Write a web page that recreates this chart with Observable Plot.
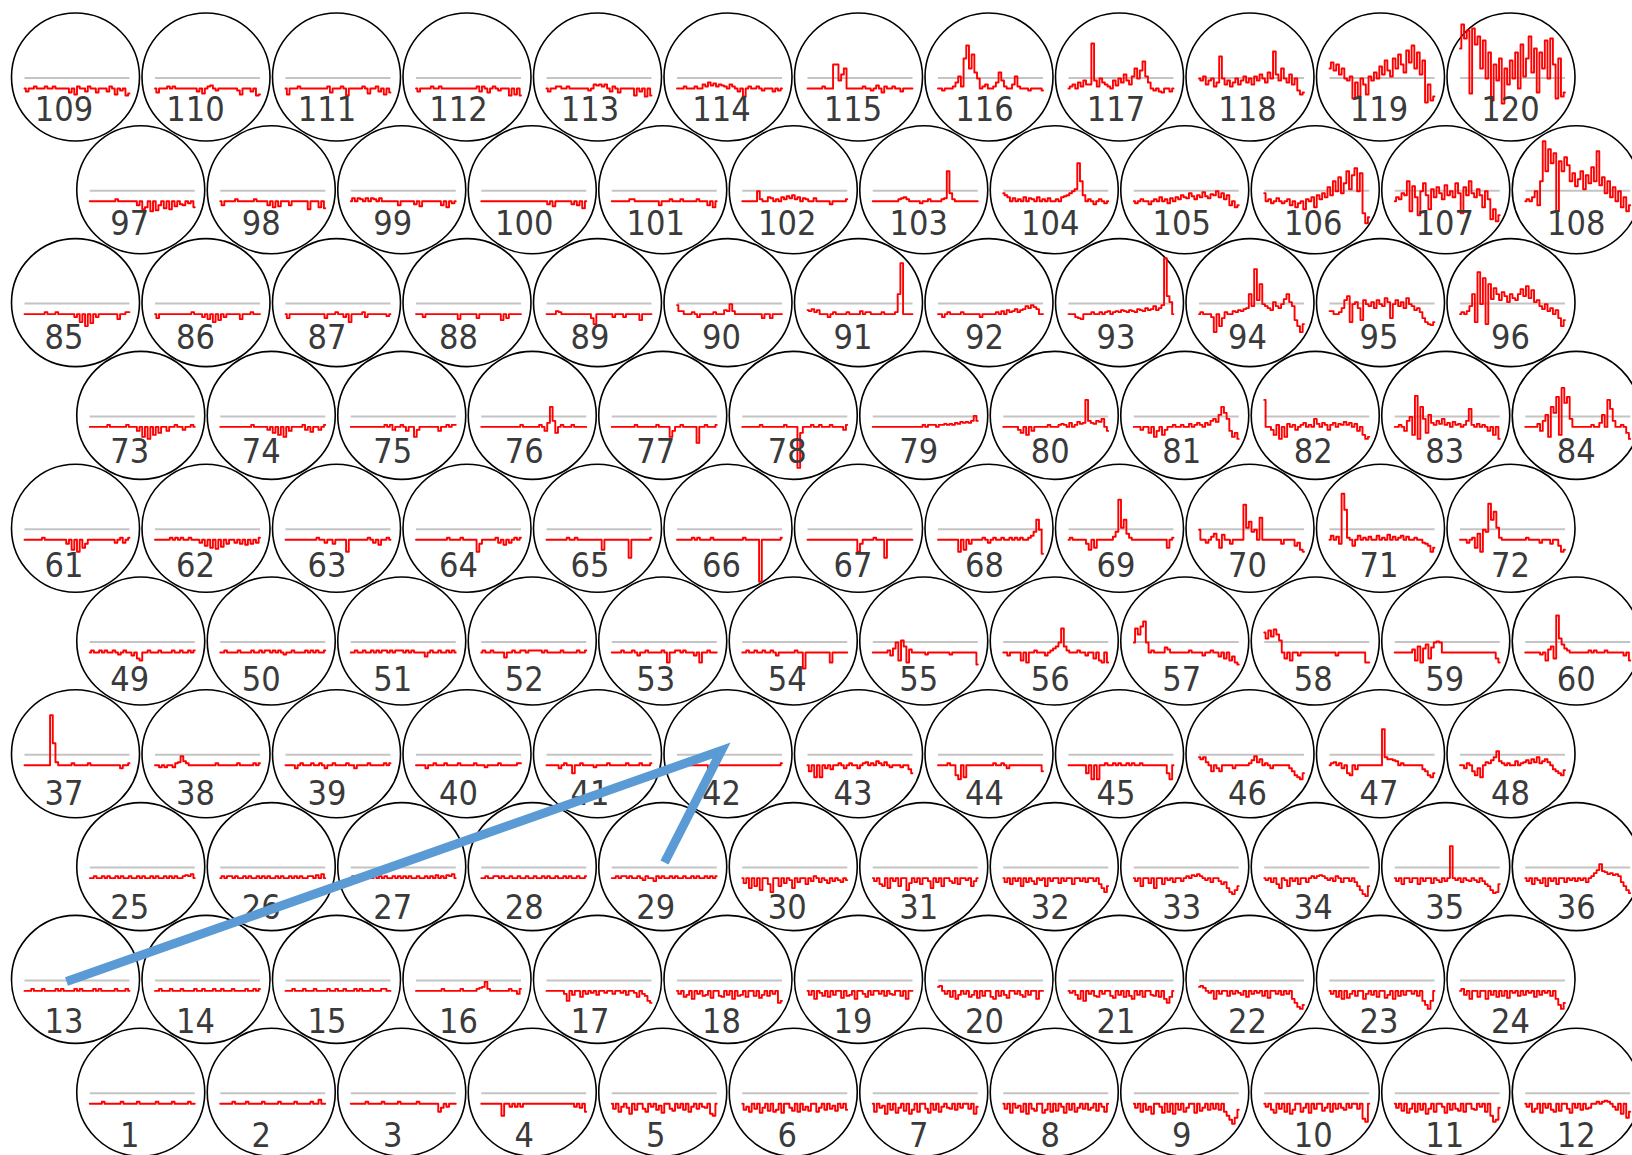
<!DOCTYPE html>
<html><head><meta charset="utf-8">
<script src="https://cdn.jsdelivr.net/npm/d3@7"></script>
<script src="https://cdn.jsdelivr.net/npm/@observablehq/plot@0.6"></script>
<style>html,body{margin:0;padding:0;background:#fff;overflow:hidden}svg{display:block}</style>
</head><body><div id="chart"></div>
<script>
// Values: height of the red trace in px above its usual level (the grey line sits 10.5 above that level)
const row01 = [ // circles 1-12
[0,0,0,0,0,2,0,0,0,0,0,0,2,0,0,0,0,0,2,0,0,0,0,0,0,2,0,0,0,0,0,2,0,0,0,0,0,2,0,0],
[0,0,0,0,0,2,0,0,0,0,2,0,0,0,0,0,2,0,0,0,0,0,2,0,0,0,0,0,2,0,0,0,0,0,2,0,0,4,0,0],
[0,0,0,0,0,0,2,0,0,0,0,0,2,0,0,0,0,0,2,0,0,0,0,0,0,2,0,0,0,0,0,0,0,-8,-4,0,-3,0,0,0],
[0,0,0,0,0,0,0,0,-12,0,0,-3,0,-3,0,-3,0,0,0,0,0,0,0,0,0,0,0,0,0,0,0,0,0,0,0,-3,0,-4,0,-8],
[0,-5,0,-8,-3,0,-4,-10,0,-6,0,0,-5,-8,0,-3,0,-6,-2,-9,0,0,-5,-7,0,-4,0,-6,0,-8,-3,0,-5,0,-3,-4,0,-10,-12,0],
[0,-6,-3,-8,0,-5,0,-9,-4,0,-7,0,-8,-6,0,-9,0,0,-4,-7,0,-8,0,-6,-3,-7,0,0,-8,-4,0,-6,0,-5,-2,-7,0,-4,0,-6],
[0,-8,0,-4,-2,-10,0,-6,0,-9,-4,0,-7,0,-10,-6,0,-8,0,0,-5,-9,0,-6,0,-8,-3,0,-4,-5,0,-6,0,-4,0,0,-5,0,-10,-3],
[0,-5,0,-9,0,-4,-2,-8,0,-10,0,-5,-7,0,0,-9,-6,0,-8,0,-7,0,-3,-9,0,-6,0,-8,-4,0,-5,0,-6,-4,0,-7,0,-3,-8,0],
[0,-4,0,-8,0,-6,-3,-10,0,0,-3,-9,0,-8,0,-10,0,-6,0,-8,-4,0,0,-9,0,-7,-4,0,-6,0,-5,0,-6,0,-8,-12,-16,-20,-14,-6],
[0,-3,0,-6,-9,0,-5,0,-8,0,-10,-6,0,0,-8,-4,0,-9,0,-5,0,0,-7,-4,0,-8,0,-5,0,-4,-6,0,-4,0,0,-5,0,-15,-18,0],
[0,-4,0,-7,0,-9,-5,0,-8,0,-6,0,-10,-5,0,-8,0,0,-3,-9,0,-6,0,-5,-7,0,-8,0,0,-5,-6,0,-3,0,-8,0,-12,-18,-16,-4],
[0,-3,0,-8,-5,0,-9,0,-4,0,-6,-8,0,-7,0,0,-5,-9,0,-4,0,-6,0,-5,-4,0,0,2,0,2,3,2,0,-3,-6,0,-10,0,-14,-8]
];
const row02 = [ // circles 13-24
[0,0,0,2,0,0,0,2,0,0,0,0,2,0,2,0,0,0,0,2,0,2,0,0,0,0,2,0,2,0,0,0,0,0,2,0,0,0,2,0],
[0,0,2,0,0,0,2,0,0,0,2,0,0,0,0,2,0,0,2,0,0,0,2,0,0,2,0,0,0,2,0,0,0,0,2,0,0,2,0,2],
[0,0,0,2,0,0,0,2,0,0,0,2,0,0,0,0,2,0,0,2,0,0,2,0,0,0,2,0,2,0,0,0,2,0,0,0,2,2,0,0],
[0,0,0,0,0,0,0,0,0,0,2,0,0,0,0,0,0,2,0,0,0,0,0,2,3,4,9,2,0,0,0,0,0,0,0,2,0,0,-3,2],
[0,0,0,0,0,0,0,-3,-10,0,-4,0,0,-6,0,-3,0,-2,0,-4,0,0,-2,0,0,-3,0,0,-2,0,-4,0,0,-2,-6,0,-3,-5,-10,-12],
[0,-3,0,-6,-4,0,-8,0,-3,0,-5,-4,0,-7,0,0,-5,-6,0,-4,0,-8,0,-5,-4,0,-6,0,0,-5,0,-7,-4,0,-5,0,-3,0,-12,-10],
[0,-4,0,-8,0,-2,-5,0,-6,0,-4,0,0,-7,0,-5,-4,0,-8,0,0,-3,-6,0,-4,0,0,-3,0,-5,0,-3,-4,0,0,-5,0,-8,0,0],
[4,5,0,-3,0,-6,0,-8,-4,0,-3,0,-6,-4,0,-7,0,-5,0,0,-6,-8,0,-5,0,-4,-7,0,0,-3,0,-4,-6,0,-4,0,0,-8,0,0],
[0,-2,0,-4,-8,0,-10,0,-3,0,-5,-6,0,-3,0,0,-5,-7,0,-4,0,-6,0,-5,-8,0,-4,0,-6,0,0,-4,-5,0,-6,0,-8,-12,-6,0],
[4,5,3,0,-2,0,-8,0,-3,0,0,-5,0,-3,0,-2,-4,0,-6,0,-3,0,-2,0,-5,0,-7,0,0,-3,0,-4,0,-3,0,-8,-12,-16,-18,-14],
[0,-3,0,-6,0,-8,0,-7,-3,0,-5,0,0,-8,-3,0,-4,0,-6,0,0,-7,-4,0,-8,0,-5,0,-4,0,0,-3,0,-5,0,-10,-14,-18,-10,0],
[0,2,-4,0,-8,0,0,-6,0,0,-8,0,-4,0,-6,0,-5,0,-7,0,-2,0,-5,0,-4,0,-2,0,-6,0,-4,0,-2,0,-5,0,-8,-14,-18,-12]
];
const row03 = [ // circles 25-36
[0,0,2,0,0,2,0,2,0,0,2,0,2,0,0,2,0,0,2,0,2,0,0,2,0,2,0,0,2,0,2,0,2,0,0,2,3,2,4,0],
[0,2,0,2,2,0,2,0,0,2,0,2,0,0,2,0,2,0,2,0,0,2,0,2,0,0,2,0,2,0,2,0,0,2,2,0,3,0,4,0],
[0,2,2,0,2,0,2,2,0,2,0,2,0,2,0,0,2,0,2,0,2,0,2,0,0,2,0,0,2,0,2,0,3,0,2,0,3,2,4,0],
[0,0,2,0,0,2,2,0,2,0,0,2,0,0,2,0,0,2,0,0,2,0,0,2,0,2,0,0,2,0,0,2,0,2,0,0,2,0,0,2],
[0,0,2,0,2,2,0,2,0,0,2,0,-2,2,0,0,-3,2,0,2,0,0,2,0,2,0,0,2,0,0,2,0,2,0,0,2,0,2,0,2],
[0,-5,0,-10,0,-8,0,-12,0,0,-6,-14,0,0,-8,0,-5,0,-2,-10,0,-4,0,0,-6,0,-3,2,0,-4,0,-2,-5,0,-3,0,-2,-4,0,-2],
[0,-3,0,-6,-8,0,-10,0,-3,0,-8,0,0,-12,-5,0,-4,0,-6,0,0,-3,-10,0,-4,0,-8,0,0,-3,-5,0,-6,0,0,-2,0,-8,-3,0],
[0,-4,0,-6,0,-3,0,-8,0,-4,0,-3,-6,0,-2,0,-8,0,-3,0,0,-5,0,-3,0,0,-6,0,0,-3,0,-4,0,0,-3,0,-6,-10,-14,-8],
[0,-3,0,-8,0,0,-5,0,-10,0,0,-6,0,-2,0,-4,0,0,-3,0,2,0,3,2,4,2,0,-2,0,-4,0,0,-3,-6,-4,-10,-14,-16,-12,-8],
[0,-2,0,-4,0,-6,-10,0,-2,-8,0,-3,0,-6,0,0,-4,0,2,0,2,3,2,0,-2,0,-3,2,0,-4,0,0,-3,0,-4,-8,-12,-16,-18,-8],
[0,-3,0,-6,0,0,-4,0,0,-6,0,-3,0,0,-5,0,-2,-4,0,-3,0,32,0,-2,0,-4,0,-2,-3,0,-2,-4,0,-3,-6,-8,-12,-15,-14,-6],
[0,-3,0,-6,0,-2,-5,0,-8,0,-3,0,-6,0,0,-4,0,-2,0,-3,0,-2,0,-4,0,2,5,8,14,7,6,4,5,3,4,2,-4,-8,-12,-15]
];
const row04 = [ // circles 37-48
[0,0,0,0,0,0,0,0,0,0,50,22,3,0,0,0,0,0,2,0,0,0,0,0,2,0,0,0,0,0,0,0,0,0,0,0,-3,0,0,2],
[0,0,-2,0,-2,0,0,-2,2,3,9,4,2,0,0,0,0,0,0,0,0,0,0,2,0,0,0,0,0,0,0,2,0,0,0,0,0,2,0,2],
[0,0,0,0,-3,0,2,0,0,0,2,0,0,2,0,-3,0,0,2,0,0,0,0,2,0,0,-3,0,0,0,0,2,0,0,0,0,0,2,0,2],
[0,0,0,0,-3,0,0,2,0,0,0,2,0,0,0,0,2,0,0,0,0,0,2,0,0,0,-2,0,0,0,0,2,0,0,0,0,0,0,2,2],
[0,0,0,0,0,-3,0,2,0,0,-8,0,0,2,0,0,0,0,-2,0,0,0,0,2,0,0,0,0,0,0,2,0,0,0,0,2,0,0,0,2],
[0,0,0,0,0,0,0,0,0,0,0,0,-5,-2,0,0,0,0,0,0,0,0,0,0,0,0,0,0,0,0,0,0,0,0,0,0,0,0,0,2],
[0,-6,0,-12,0,-12,0,-3,0,-4,0,0,2,0,-3,0,2,0,0,-3,0,2,3,0,2,0,4,2,0,3,0,-2,0,0,0,-2,0,0,-4,-8],
[0,0,0,0,2,0,0,-10,-14,0,-12,0,0,0,0,0,0,0,0,0,0,2,0,0,2,0,-3,0,0,0,0,0,0,0,0,0,0,0,0,-6],
[0,0,0,0,0,0,0,-8,0,-14,0,-14,0,0,2,0,0,2,0,2,0,0,2,0,2,0,0,2,0,0,0,0,0,0,0,0,0,-8,-14,0],
[8,6,8,3,0,-6,0,-3,-6,0,0,0,0,-3,0,0,0,0,0,2,5,9,3,6,0,2,0,-3,0,0,0,0,0,0,-3,-6,-10,-12,-14,-8],
[0,2,3,0,2,-3,0,-8,-10,0,-4,0,0,0,0,0,0,0,0,0,36,8,6,6,5,4,0,2,0,0,0,0,0,0,0,-4,-6,-10,-12,-8],
[0,0,-3,2,0,-6,-10,-3,-12,0,3,2,5,8,14,4,2,0,2,0,0,4,0,2,3,5,2,6,3,8,2,4,6,3,0,-4,-6,-8,-10,-5]
];
const row05 = [ // circles 49-60
[0,2,0,0,2,0,2,0,0,2,0,-2,0,2,0,0,-3,0,-6,-8,0,0,2,0,0,0,2,0,0,0,0,2,0,0,2,0,0,2,0,2],
[0,0,2,0,0,0,0,2,0,0,0,0,2,0,0,2,0,2,2,0,2,0,2,0,-2,0,0,2,0,0,0,0,2,0,2,0,2,0,0,2],
[0,0,2,0,0,2,0,0,2,0,2,0,2,2,0,2,0,2,2,2,0,2,0,2,0,0,0,0,-4,0,2,0,0,2,0,0,2,0,2,0],
[0,2,0,0,2,0,0,0,0,-5,0,0,2,0,0,2,2,0,2,2,2,2,2,0,2,0,0,0,0,0,2,0,0,0,0,0,2,0,0,2],
[0,0,0,0,2,0,0,0,2,0,-3,0,0,2,0,0,0,0,0,2,0,-10,0,0,2,2,0,2,0,0,0,-3,0,-10,0,0,2,0,0,0],
[0,0,2,0,0,2,0,0,2,0,0,2,0,-3,0,0,0,0,0,0,2,0,0,-16,0,0,0,0,0,0,0,0,0,-10,0,0,0,0,0,0],
[0,0,0,0,0,0,2,-3,4,10,-8,12,6,-10,3,0,0,0,0,0,-2,0,0,0,0,0,0,0,0,-2,0,0,0,0,0,0,0,0,0,-12],
[0,0,-3,0,0,0,0,-8,0,-10,0,0,2,0,0,0,-3,0,2,4,6,10,24,6,2,0,0,0,2,0,0,-3,0,0,-6,0,-8,-10,0,-10],
[10,24,18,26,31,10,0,2,0,0,0,0,5,3,0,0,0,0,0,0,0,2,0,0,0,0,-3,0,0,2,0,0,-4,0,-6,0,-8,-4,-10,-12],
[20,14,22,16,23,18,12,0,-6,0,-8,0,0,-3,0,0,0,0,0,0,0,0,0,0,0,0,0,-3,0,0,0,0,0,0,0,0,0,0,-10,-10],
[0,0,0,0,0,0,0,3,-8,6,-10,4,8,-6,5,10,11,10,0,0,0,0,0,0,0,0,0,0,0,0,0,0,0,0,0,0,0,0,-6,-10],
[0,0,0,0,0,0,-2,0,-8,3,6,-6,37,14,8,4,2,0,0,0,0,0,0,0,2,0,2,0,0,0,2,0,0,0,0,0,0,-3,0,-8]
];
const row06 = [ // circles 61-72
[0,0,0,0,0,0,0,2,0,0,0,0,0,0,0,0,-4,0,-10,0,-12,0,-8,-4,0,0,0,0,0,0,0,0,0,0,-3,0,2,-3,0,2],
[0,0,0,0,0,0,2,0,2,0,2,0,0,2,0,0,0,-3,0,-6,0,-8,0,-9,0,-7,0,-4,0,0,-3,0,-4,0,-5,0,-4,0,-3,2],
[0,0,0,0,0,0,0,0,0,0,0,0,2,0,0,-3,0,0,-4,0,0,0,0,-12,0,0,0,0,0,0,0,2,0,-3,0,-5,0,0,2,0],
[0,0,0,0,0,0,0,0,0,0,0,0,2,0,0,0,0,2,0,0,0,0,0,-12,-4,0,0,0,0,0,2,-3,0,-5,0,-3,0,2,0,2],
[0,0,0,0,0,0,0,0,2,0,0,2,0,0,0,0,0,0,0,0,0,-10,0,0,0,0,0,0,0,0,0,-18,0,0,0,0,0,0,0,2],
[0,0,0,0,0,0,2,0,2,0,0,0,0,2,0,0,0,0,0,0,0,0,0,0,0,2,0,0,0,0,0,-42,0,0,0,0,0,0,0,2],
[0,0,0,0,0,0,0,0,0,0,0,0,0,0,0,0,0,0,0,-12,-4,0,0,0,0,2,0,0,0,-18,0,0,0,0,0,0,0,0,0,0],
[0,0,0,0,0,0,0,0,-12,0,-10,0,-4,0,0,0,0,2,0,-3,0,2,0,0,2,0,0,2,0,2,0,2,0,0,2,4,8,20,10,-14],
[0,2,0,0,0,0,0,-4,-10,0,-8,0,0,0,0,0,0,3,8,40,12,20,6,2,0,0,0,0,0,0,0,0,0,0,0,0,0,-8,0,2],
[10,0,0,-3,0,3,6,0,-8,5,0,0,-4,0,0,0,0,35,12,18,8,10,0,22,0,0,0,0,0,0,0,-4,0,0,0,0,-6,-3,-10,-12],
[0,4,0,3,-4,46,30,2,0,-6,0,4,0,2,0,3,0,0,4,0,2,0,5,0,3,0,2,4,0,3,0,0,2,0,0,-3,-4,-6,-12,-8],
[0,0,0,-3,0,2,-8,6,-12,10,8,36,20,28,12,2,0,0,0,0,0,0,0,0,0,2,0,0,0,0,-3,0,0,0,-4,0,0,-6,-12,-10]
];
const row07 = [ // circles 73-84
[0,0,0,0,0,0,0,2,0,0,0,0,0,0,2,0,0,0,-4,0,-10,0,-12,0,-8,0,-6,0,0,-4,0,0,2,0,0,-3,0,0,2,0],
[0,0,0,0,0,0,0,0,0,0,0,0,2,0,0,0,0,0,-3,0,-6,0,-8,0,-10,0,-4,0,0,0,0,2,-3,0,-5,0,0,-3,0,2],
[0,0,0,0,0,0,0,0,0,0,0,0,0,2,0,2,-3,0,0,2,0,-4,0,0,-10,-3,0,0,0,0,0,0,0,-4,0,0,2,0,2,2],
[0,0,0,0,0,0,0,0,0,0,0,0,0,0,0,2,0,0,0,0,0,0,2,0,-4,4,20,6,-6,0,2,0,0,0,2,0,0,0,0,0],
[0,0,0,0,0,0,0,0,0,2,0,0,0,0,0,0,0,2,0,0,0,0,-10,-4,0,0,2,0,0,0,0,0,-16,0,0,2,0,0,0,2],
[0,0,0,0,0,0,0,2,0,0,0,0,0,0,0,0,2,0,0,0,0,-41,-6,0,0,0,2,0,0,2,0,0,0,2,0,0,0,0,-3,2],
[0,0,0,0,0,0,0,0,0,0,0,0,0,0,0,0,0,0,0,2,0,2,2,2,0,2,2,3,2,3,2,4,3,5,4,5,4,6,11,6],
[0,0,0,0,0,0,-3,-6,0,-8,0,-4,0,0,0,0,0,2,0,0,0,2,3,2,0,4,0,2,5,3,4,27,6,4,3,6,5,8,0,-4],
[0,0,0,-3,0,0,-6,0,-10,-4,0,-8,-3,0,0,2,0,0,2,0,0,3,0,2,4,2,0,4,2,6,8,5,12,20,14,8,-4,-10,-6,-12],
[27,0,0,-3,-8,2,-12,0,-10,3,0,2,-3,0,2,4,0,2,0,8,3,0,4,2,-3,2,4,0,3,2,5,2,4,0,3,-4,0,-8,-12,-10],
[0,0,2,0,-4,6,10,-8,31,-12,20,8,-6,12,4,2,6,3,8,2,4,0,5,2,3,0,2,6,18,2,0,3,0,2,0,-4,0,-8,0,-12],
[0,0,0,0,0,3,-4,6,12,-10,20,14,30,-8,39,24,30,8,0,0,0,0,0,0,0,2,0,0,4,12,0,27,18,6,0,0,2,0,-6,-12]
];
const row08 = [ // circles 85-96
[0,0,0,0,0,0,0,0,2,0,0,0,2,0,0,0,0,0,0,-3,0,-8,0,-12,0,-9,0,-3,0,0,0,0,0,0,0,-5,0,0,2,2],
[0,-4,0,0,0,0,0,0,0,0,0,0,0,0,2,0,0,0,-3,0,-5,0,-8,0,-6,0,-3,0,0,0,0,0,-5,0,0,0,2,0,0,0],
[0,-4,0,0,0,0,0,0,0,0,0,0,0,0,0,-4,0,0,0,2,0,0,-3,0,-8,0,0,0,0,2,-3,0,0,0,0,0,0,0,-2,0],
[0,0,0,-3,0,0,0,0,0,0,0,0,0,0,0,0,-5,0,0,0,0,0,0,-4,0,0,0,0,0,0,0,0,-6,0,-4,0,0,0,0,0],
[0,0,0,0,3,2,0,0,0,0,0,0,0,0,0,0,0,-4,-10,0,0,0,0,0,0,-3,0,0,0,-3,0,0,0,0,0,-6,0,0,0,0],
[9,3,3,0,0,0,2,0,-3,0,0,0,0,0,2,0,0,0,4,3,10,3,0,0,0,0,0,0,0,0,0,0,-4,0,0,-4,0,0,0,0],
[4,3,5,2,4,0,0,0,-3,0,2,0,0,0,0,2,0,0,0,0,3,0,2,2,0,0,0,0,2,0,0,0,0,2,20,51,0,0,0,0],
[0,0,-3,0,2,0,0,0,0,2,0,0,0,0,0,0,-3,0,0,0,0,0,2,0,3,0,4,2,3,5,2,4,5,8,6,9,7,5,0,0],
[0,0,0,-3,-4,-5,0,0,0,2,0,0,2,0,2,3,0,2,3,2,4,3,2,4,3,2,5,4,3,6,4,5,8,4,6,9,56,18,12,0],
[0,2,0,0,0,-3,-18,0,-12,-4,2,0,0,3,2,4,3,5,6,20,8,45,14,30,10,8,6,4,12,8,6,10,15,20,12,8,-6,-12,-18,-10],
[3,3,0,0,2,6,14,18,-8,10,12,6,-6,14,10,8,12,6,14,10,8,16,12,-4,10,14,8,12,6,16,10,8,4,6,2,-4,-8,-10,-11,-8],
[0,2,0,3,8,20,-8,42,10,36,-10,30,15,26,20,14,22,18,12,20,16,14,20,25,18,28,16,24,12,14,8,5,10,3,6,0,4,-4,-12,-6]
];
const row09 = [ // circles 97-108
[0,0,0,0,0,0,0,0,0,0,2,0,0,0,0,0,0,0,-4,0,-8,-6,0,-10,0,-9,-4,0,-7,0,-8,0,-5,0,-3,-4,0,-2,0,-6],
[0,-4,0,0,0,0,2,0,0,0,0,0,0,2,0,0,0,0,-4,0,-6,0,-5,0,0,0,-4,0,0,0,0,0,0,-8,0,0,0,-6,0,-7],
[0,3,0,3,2,0,3,0,3,2,0,3,0,0,0,0,0,0,-4,0,0,0,0,0,-3,0,-5,0,0,0,0,0,0,0,-4,0,-6,0,-2,0],
[0,0,0,0,0,0,0,0,0,0,0,0,0,0,0,0,0,0,0,0,0,0,0,0,0,-3,0,-5,0,0,0,0,0,0,-3,0,-4,0,-7,0],
[0,0,0,0,0,0,0,2,2,0,0,0,0,0,0,0,0,0,-4,0,0,0,2,0,0,0,2,0,0,0,0,0,2,0,0,0,-4,0,-6,0],
[0,0,0,0,0,0,10,2,0,0,4,3,0,2,0,4,2,5,3,6,2,4,0,3,2,0,0,3,0,0,0,0,0,-3,0,0,0,0,0,2],
[0,0,0,0,0,0,0,0,0,0,2,3,4,2,0,0,0,0,-2,0,0,2,0,0,0,0,2,3,30,8,2,0,0,0,0,0,0,0,0,0],
[8,6,4,0,3,0,2,0,4,0,3,2,0,4,0,2,0,3,0,0,2,0,4,5,6,8,10,12,38,20,6,0,2,0,-3,0,2,0,-2,0],
[0,-2,0,2,0,0,-3,0,2,0,4,0,2,-2,3,0,4,2,6,4,3,8,5,2,6,4,9,5,3,7,6,10,4,8,2,6,-4,0,-6,-4],
[8,0,2,-2,0,3,0,-2,0,2,-4,0,-6,-2,0,-8,2,0,4,-6,6,2,8,4,14,6,20,10,24,8,18,30,12,26,33,10,28,-12,-22,-16],
[0,4,2,8,6,20,-10,15,4,-14,10,18,6,-8,12,4,14,8,2,16,6,10,4,18,8,-12,14,6,20,8,4,12,6,-6,10,2,-18,-8,-20,-14],
[0,2,0,4,10,-4,20,60,30,52,38,48,-10,40,30,44,36,20,28,15,22,30,12,26,18,34,20,50,16,24,8,20,4,14,0,10,-6,4,-10,-4]
];
const row10 = [ // circles 109-120
[0,-3,0,0,2,0,0,0,2,0,0,2,0,0,0,0,0,-4,0,-6,2,0,0,-3,2,0,0,-4,0,0,0,-3,2,0,-6,0,-2,0,-7,-5],
[0,-4,0,0,0,2,0,2,0,0,0,0,0,0,0,0,-3,0,-5,0,2,3,0,-2,0,0,0,0,0,0,0,-2,-6,0,0,0,-3,0,-7,-6],
[0,-6,0,0,0,2,0,0,0,0,0,0,0,0,0,0,2,-4,0,0,0,2,0,-7,0,0,0,0,0,2,0,-5,0,0,2,-3,0,-6,0,-4],
[0,-3,0,0,0,0,2,0,0,2,0,0,0,0,0,0,0,0,0,0,0,0,0,2,-3,2,0,-4,0,2,0,-2,0,0,0,-7,0,-6,0,-7],
[0,-3,0,0,2,2,0,0,2,0,0,0,0,0,0,0,-2,0,4,3,4,2,4,0,-3,2,0,-4,0,0,0,0,0,-7,0,-3,0,-8,0,-7],
[0,0,0,2,0,0,0,2,0,0,4,2,6,3,5,2,4,3,2,0,4,2,0,-3,0,-8,0,2,0,0,2,0,-2,0,0,0,-3,0,-2,0],
[0,0,0,0,0,0,2,0,0,0,24,24,8,14,20,0,0,0,0,0,0,2,0,0,-2,0,3,0,-4,2,0,0,2,0,0,-3,0,0,0,0],
[0,0,-2,0,0,0,2,6,12,2,30,43,20,34,16,10,0,2,4,0,0,2,6,16,8,2,0,0,4,12,2,0,0,0,-2,0,0,0,0,-2],
[0,2,4,0,6,2,8,4,4,45,8,2,10,6,4,2,0,8,3,10,6,14,8,4,12,20,10,18,27,12,6,0,-2,0,-3,-4,0,0,-3,0],
[10,8,12,4,8,10,2,6,32,10,4,8,2,6,10,4,8,12,6,10,4,12,8,14,10,6,16,10,37,14,8,20,10,6,14,4,10,-2,-6,-4],
[20,26,18,24,14,20,10,8,12,-10,6,-8,10,4,-6,12,8,16,10,22,14,28,18,12,30,20,34,24,16,38,26,43,20,36,14,28,-14,4,-12,-8],
[40,64,50,58,-5,60,44,52,20,48,10,36,-12,24,8,30,-15,20,4,28,10,36,0,44,12,30,52,16,40,-4,36,20,48,10,50,24,-10,30,-8,-4]
];
// hand-drawn blue arrow annotation (page px)
const arrowX = [66, 721, 664];
const arrowY = [981, 750, 862];

const rows = [row01,row02,row03,row04,row05,row06,row07,row08,row09,row10];

// hexagonal layout (row 0 = bottom row, shifted right by half a cell)
const cells = [];
const points = [];
rows.forEach((row, r) => {
  row.forEach((vals, c) => {
    const id = r * 12 + c + 1;
    const shift = r % 2 === 0 ? 1 : 0;
    const cx = 75 + c * 130.5 + shift * 65.25;
    const cy = 76.5 + (9 - r) * 112.8;
    const gy = cy + 1;
    cells.push({id, cx, cy, gy, x1: cx - 51, x2: cx + 54,
      lx: 63.5 + c * 131.5 + shift * 65.75, ly: 109.2 + (9 - r) * 114});
    const n = vals.length;
    vals.forEach((v, i) => points.push({id, x: cx - 51 + i * 105 / (n - 1), y: gy + 10.5 - v}));
  });
});
const arrow = arrowX.map((x, i) => ({x, y: arrowY[i]}));

const chart = Plot.plot({
  width: 1632, height: 1155, margin: 0,
  x: {domain: [0, 1632], range: [0, 1632], axis: null},
  y: {domain: [0, 1155], range: [0, 1155], axis: null},
  style: {background: "#fff"},
  marks: [
    Plot.dot(cells, {x: "cx", y: "cy", r: 64, stroke: "#000", strokeWidth: 1.6, fill: "none"}),
    Plot.link(cells, {x1: "x1", x2: "x2", y1: "gy", y2: "gy", stroke: "#c4c4c4", strokeWidth: 2}),
    Plot.line(points, {x: "x", y: "y", z: "id", stroke: "#ff0000", strokeWidth: 1.9, curve: "step"}),
    Plot.text(cells, {x: "lx", y: "ly", text: d => String(d.id), fontSize: 34,
      fontFamily: "DejaVu Sans Condensed", fill: "#3a3a3a", textAnchor: "middle", lineAnchor: "middle"}),
    Plot.line(arrow, {x: "x", y: "y", stroke: "#5b9bd5", strokeWidth: 9,
      strokeLinejoin: "miter", strokeLinecap: "butt", strokeMiterlimit: 6})
  ]
});
document.getElementById("chart").appendChild(chart);
</script>
</body></html>
